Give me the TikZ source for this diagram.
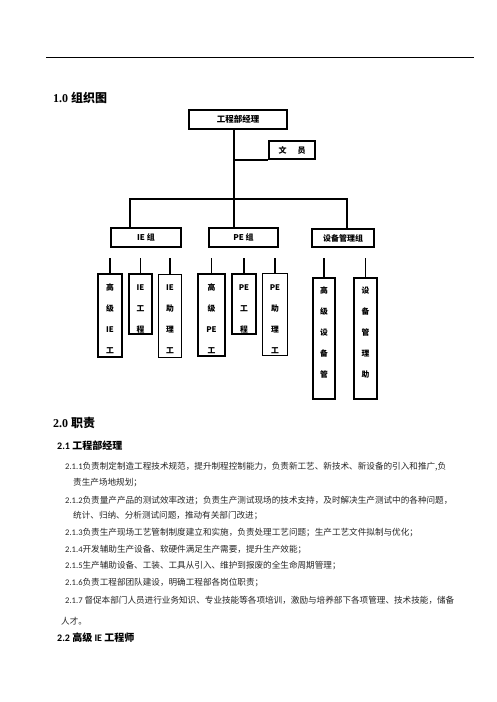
\documentclass[tikz,border=0pt]{standalone}
\usepackage{fontspec}
\setmainfont{Liberation Serif}
\newfontfamily\cjk{Noto Sans CJK SC}
\newfontfamily\cali{Carlito}
\usetikzlibrary{positioning}

\begin{document}
\begin{tikzpicture}[x=1pt, y=-1pt,
  every node/.style={inner sep=0pt, font=\cjk\bfseries\fontsize{8}{9}\selectfont},
  box/.style={draw, line width=2.2pt, align=center},
  leaf/.style={draw, line width=2.4pt, anchor=north},
  leafmid/.style={leaf, line width=1.7pt},
  leafthin/.style={leaf, line width=1pt},
  leaftext/.style={align=center, anchor=north, font=\cjk\bfseries\fontsize{7.8}{21}\selectfont},
  link/.style={line width=1.5pt},
  head/.style={anchor=west, font=\bfseries\fontsize{12}{14}\selectfont},
  subhead/.style={anchor=west, font=\cali\bfseries\fontsize{10}{12}\selectfont},
  body/.style={anchor=west, text=black!85, font=\cjk\fontsize{8.6}{10}\selectfont},
]
  \fill[white] (0,0) rectangle (496,702);
  \useasboundingbox (0,0) rectangle (496,702);

  % page rule
  \draw[line width=0.8pt] (46,57) -- (474,57);

  \node[head] (h10) at (53,98) {1.0 {\cjk 组织图}};

  % org chart
  \node[box, minimum width=98, minimum height=19, font=\cjk\bfseries\fontsize{8.5}{9}\selectfont] (mgr) at (238,119.5) {工程部经理};
  \node[box, line width=2pt, minimum width=46, minimum height=18] (clerk) at (292,150) {文\hspace{11pt}员};

  \node[box, minimum width=70, minimum height=19] (iegrp) at (146,237.5) {IE\ 组};
  \node[box, minimum width=69, minimum height=19] (pegrp) at (243.5,237.5) {PE\ 组};
  \node[box, minimum width=62, minimum height=18] (eqgrp) at (343,238) {设备管理组};

  \node[leaf, minimum width=24, minimum height=83] (ie1) at (110,273) {};
  \node[leafmid, minimum width=23, minimum height=60] (ie2) at (140.5,273) {};
  \node[leafthin, minimum width=23, minimum height=83] (ie3) at (170,273.5) {};
  \node[leaf, minimum width=27, minimum height=82] (pe1) at (211.5,273) {};
  \node[leafmid, minimum width=24, minimum height=60] (pe2) at (244,273) {};
  \node[leafthin, line width=1.3pt, minimum width=25, minimum height=82] (pe3) at (275,273) {};
  \node[leaf, minimum width=22, minimum height=121] (eq1) at (324,277) {};
  \node[leafmid, line width=2pt, minimum width=23, minimum height=121] (eq2) at (365.5,277) {};

  \node[leaftext, below=11pt of ie1.north] (ie1t) {高\\级\\IE\\工};
  \node[leaftext, below=11pt of ie2.north] (ie2t) {IE\\工\\程};
  \node[leaftext, below=11pt of ie3.north] (ie3t) {IE\\助\\理\\工};
  \node[leaftext, below=11pt of pe1.north] (pe1t) {高\\级\\PE\\工};
  \node[leaftext, below=11pt of pe2.north] (pe2t) {PE\\工\\程};
  \node[leaftext, below=11pt of pe3.north] (pe3t) {PE\\助\\理\\工};
  \node[leaftext, below=10pt of eq1.north] (eq1t) {高\\级\\设\\备\\管};
  \node[leaftext, below=10pt of eq2.north] (eq2t) {设\\备\\管\\理\\助};

  \coordinate (hub) at (234,199);
  \coordinate (ieup) at (130,199);
  \coordinate (equp) at (347,199);
  \coordinate (stubs) at (0,258);

  \draw[link, line width=2pt] (hub |- mgr.south) -- (hub |- pegrp.north);
  \draw[link] (hub |- clerk.south) -- (clerk.south west);
  \draw[link] (ieup |- iegrp.north) -- (ieup) -- (equp) -- (equp |- eqgrp.north);
  \foreach \n in {ie1,ie2,ie3,pe1,pe2,pe3,eq1,eq2}
    \draw[link] (\n.north) -- (\n.north |- stubs);

  % duties
  \node[head] (h20) at (53,423) {2.0 {\cjk 职责}};
  \node[subhead] (h21) at (57,446) {2.1 {\cjk 工程部经理}};
  \node[body] (d211) at (65,467) {{\cali 2.1.1}负责制定制造工程技术规范，提升制程控制能力，负责新工艺、新技术、新设备的引入和推广,负};
  \node[body] (d211b) at (73,483) {责生产场地规划；};
  \node[body] (d212) at (65,501) {{\cali 2.1.2}负责量产产品的测试效率改进；负责生产测试现场的技术支持，及时解决生产测试中的各种问题，};
  \node[body] (d212b) at (73,516) {统计、归纳、分析测试问题，推动有关部门改进；};
  \node[body] (d213) at (65,533) {{\cali 2.1.3}负责生产现场工艺管制制度建立和实施，负责处理工艺问题；生产工艺文件拟制与优化；};
  \node[body] (d214) at (65,550) {{\cali 2.1.4}开发辅助生产设备、软硬件满足生产需要，提升生产效能；};
  \node[body] (d215) at (65,566) {{\cali 2.1.5}生产辅助设备、工装、工具从引入、维护到报废的全生命周期管理；};
  \node[body] (d216) at (65,583) {{\cali 2.1.6}负责工程部团队建设，明确工程部各岗位职责；};
  \node[body] (d217) at (65,600) {{\cali 2.1.7} 督促本部门人员进行业务知识、专业技能等各项培训，激励与培养部下各项管理、技术技能，储备};
  \node[body] (d217b) at (61,621) {人才。};
  \node[subhead] (h22) at (57,638) {2.2 {\cjk 高级} IE {\cjk 工程师}};
\end{tikzpicture}
\end{document}
